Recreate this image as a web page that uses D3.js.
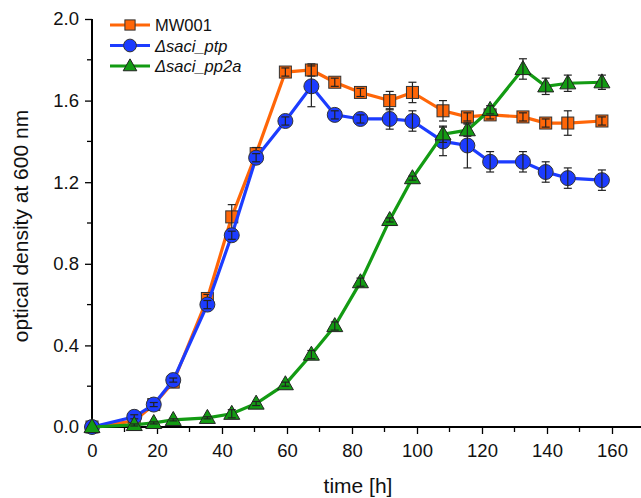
<!DOCTYPE html>
<html>
<head>
<meta charset="utf-8">
<script src="https://cdn.jsdelivr.net/npm/d3@7"></script>
<style>
body { margin: 0; background: #fff; }
text { font-family: "Liberation Sans", Arial, sans-serif; fill: #111; }
</style>
</head>
<body>
<div id="chart"></div>
<script>
var width = 641;
var height = 498;

// time points (h)
var times = [0, 13, 19, 25, 35.5, 43, 50.5, 59.5, 67.5, 74.7, 82.6, 91.6, 98.6, 108, 115.5, 122.5, 132.6, 139.6, 146.4, 156.9];

var mw001 = [0, 0.03, 0.11, 0.22, 0.63, 1.03, 1.34, 1.74, 1.75, 1.69, 1.64, 1.60, 1.64, 1.55, 1.52, 1.53, 1.52, 1.49, 1.49, 1.50];
var mw001Err = [0, 0.01, 0.01, 0.01, 0.02, 0.06, 0.03, 0.02, 0.03, 0.02, 0.02, 0.045, 0.05, 0.05, 0.02, 0.02, 0.02, 0.02, 0.06, 0.02];

var ptp = [0, 0.05, 0.11, 0.23, 0.60, 0.94, 1.32, 1.50, 1.67, 1.53, 1.51, 1.51, 1.50, 1.40, 1.38, 1.30, 1.30, 1.25, 1.22, 1.21];
var ptpErr = [0, 0.01, 0.01, 0.01, 0.02, 0.02, 0.02, 0.02, 0.10, 0.02, 0.02, 0.05, 0.05, 0.07, 0.11, 0.05, 0.05, 0.05, 0.05, 0.05];

var pp2a = [0, 0.01, 0.02, 0.035, 0.045, 0.065, 0.115, 0.21, 0.355, 0.495, 0.71, 1.015, 1.22, 1.435, 1.455, 1.555, 1.755, 1.67, 1.685, 1.69];
var pp2aErr = [0, 0.005, 0.005, 0.005, 0.005, 0.02, 0.01, 0.01, 0.02, 0.02, 0.02, 0.01, 0.01, 0.04, 0.03, 0.02, 0.05, 0.04, 0.04, 0.035];

var xTicks = [0, 20, 40, 60, 80, 100, 120, 140, 160];
var yTicks = [0.0, 0.4, 0.8, 1.2, 1.6, 2.0];

var COLOR_MW = '#ff6608';
var COLOR_PTP = '#1c3cff';
var COLOR_PP2A = '#139b13';

var series = [
    { name: 'MW001', italic: false, color: COLOR_MW, shape: 'square', values: mw001, err: mw001Err },
    { name: 'saci_ptp', italic: true, color: COLOR_PTP, shape: 'circle', values: ptp, err: ptpErr },
    { name: 'saci_pp2a', italic: true, color: COLOR_PP2A, shape: 'triangle', values: pp2a, err: pp2aErr }
];

var svg = d3.select('#chart')
    .append('svg')
    .attr('width', width)
    .attr('height', height);

var x = d3.scaleLinear().domain([0, 160]).range([92, 612]);
var y = d3.scaleLinear().domain([0, 2]).range([427, 19]);

// axes
var xAxis = svg.append('g')
    .attr('transform', 'translate(0,' + y(0) + ')')
    .call(d3.axisBottom(x).tickValues(xTicks).tickFormat(d3.format('d')).tickSize(7).tickSizeOuter(0));
xAxis.select('.domain').remove();
xAxis.append('line')
    .attr('x1', x(0)).attr('x2', x(172))
    .attr('stroke', '#000').attr('stroke-width', 2);
xAxis.selectAll('.minor')
    .data(d3.range(10, 180, 20))
    .enter().append('line')
    .attr('x1', function (d) { return x(d); })
    .attr('x2', function (d) { return x(d); })
    .attr('y1', 0).attr('y2', 5)
    .attr('stroke', '#000').attr('stroke-width', 1.3);
xAxis.selectAll('.tick line').attr('stroke-width', 1.3);
xAxis.selectAll('.tick text')
    .attr('dy', 0)
    .attr('y', 30)
    .style('font-size', '18.5px');

var yAxis = svg.append('g')
    .attr('transform', 'translate(' + x(0) + ',0)')
    .call(d3.axisLeft(y).tickValues(yTicks).tickFormat(d3.format('.1f')).tickSize(7).tickSizeOuter(0));
yAxis.select('.domain').remove();
yAxis.append('line')
    .attr('y1', y(0) + 1).attr('y2', y(2))
    .attr('stroke', '#000').attr('stroke-width', 2);
yAxis.selectAll('.minor')
    .data(d3.range(0.2, 2, 0.4))
    .enter().append('line')
    .attr('y1', function (d) { return y(d); })
    .attr('y2', function (d) { return y(d); })
    .attr('x1', 0).attr('x2', -5)
    .attr('stroke', '#000').attr('stroke-width', 1.3);
yAxis.selectAll('.tick line').attr('stroke-width', 1.3);
yAxis.selectAll('.tick text')
    .attr('x', -13)
    .style('font-size', '18.5px');

// axis titles
svg.append('text')
    .text('time [h]')
    .attr('x', 358)
    .attr('y', 493)
    .attr('text-anchor', 'middle')
    .style('font-size', '21px');

svg.append('text')
    .text('optical density at 600 nm')
    .attr('transform', 'translate(28,226) rotate(-90)')
    .attr('text-anchor', 'middle')
    .style('font-size', '21px');

var drawMarker = function (g, shape, color, cx, cy, scale) {
    scale = scale || 1;
    if (shape == 'square') {
        var s = 12 * scale;
        g.append('rect')
            .attr('x', cx - s / 2).attr('y', cy - s / 2)
            .attr('width', s).attr('height', s)
            .attr('fill', color).attr('stroke', '#333').attr('stroke-width', 1);
    } else if (shape == 'circle') {
        g.append('circle')
            .attr('cx', cx).attr('cy', cy).attr('r', 7.5 * scale)
            .attr('fill', color).attr('stroke', '#333').attr('stroke-width', 1);
    } else {
        var h = 14 * scale, w = 16 * scale;
        g.append('path')
            .attr('d', 'M' + cx + ',' + (cy - h * 0.6) + 'L' + (cx + w / 2) + ',' + (cy + h * 0.4) + 'L' + (cx - w / 2) + ',' + (cy + h * 0.4) + 'Z')
            .attr('fill', color).attr('stroke', '#222').attr('stroke-width', 1);
    }
};

var line = d3.line()
    .x(function (d, i) { return x(times[i]); })
    .y(function (d) { return y(d); });

series.forEach(function (s) {
    var g = svg.append('g');
    g.append('path')
        .datum(s.values)
        .attr('fill', 'none')
        .attr('stroke', s.color)
        .attr('stroke-width', 3.2)
        .attr('d', line);

    s.values.forEach(function (v, i) {
        drawMarker(g, s.shape, s.color, x(times[i]), y(v));
    });

    // error bars
    s.values.forEach(function (v, i) {
        var e = s.err[i];
        if (!e) return;
        var cx = x(times[i]);
        var eb = g.append('g').attr('stroke', '#222').attr('stroke-width', 1.2);
        eb.append('line').attr('x1', cx).attr('x2', cx).attr('y1', y(v - e)).attr('y2', y(v + e));
        eb.append('line').attr('x1', cx - 4).attr('x2', cx + 4).attr('y1', y(v - e)).attr('y2', y(v - e));
        eb.append('line').attr('x1', cx - 4).attr('x2', cx + 4).attr('y1', y(v + e)).attr('y2', y(v + e));
    });
});

// legend
var legend = svg.append('g');
series.forEach(function (s, i) {
    var ly = 25 + i * 20.5;
    legend.append('line')
        .attr('x1', 110).attr('x2', 150)
        .attr('y1', ly).attr('y2', ly)
        .attr('stroke', s.color).attr('stroke-width', 3);
    drawMarker(legend, s.shape, s.color, 130, ly, 0.85);
    var t = legend.append('text')
        .attr('x', 155)
        .attr('y', ly + 6)
        .style('font-size', '16.5px');
    if (s.italic) {
        t.append('tspan').text('\u0394').style('font-style', 'italic');
        t.append('tspan').text(s.name).style('font-style', 'italic');
    } else {
        t.text(s.name);
    }
});
</script>
</body>
</html>
